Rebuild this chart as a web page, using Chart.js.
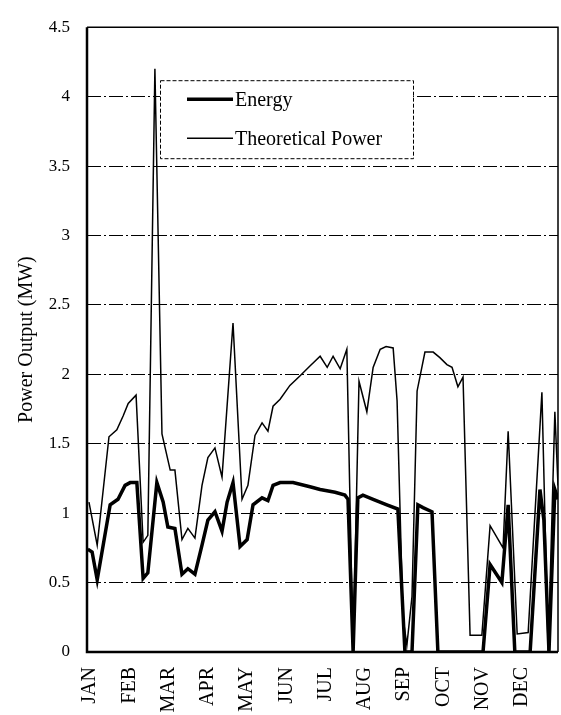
<!DOCTYPE html>
<html lang="en">
<head>
    <meta charset="UTF-8" />
    <title>Power Output</title>
    <style>
        body {
            margin: 0;
            background: #fff;
        }
    </style>
    <script src="https://cdn.jsdelivr.net/npm/chart.js"></script>
</head>

<body>
    <canvas id="chart" width="561" height="715"></canvas>

    <script>
        const monthLabels = ["JAN", "FEB", "MAR", "APR", "MAY", "JUN", "JUL", "AUG", "SEP", "OCT", "NOV", "DEC"];
        const yTicks = [0, 0.5, 1, 1.5, 2, 2.5, 3, 3.5, 4, 4.5];

        // x = months since 1 Jan, y = MW
        const energyX = [0.02, 0.13, 0.26, 0.59, 0.79, 0.97, 1.10, 1.27, 1.43, 1.55, 1.78, 1.94, 2.06, 2.24, 2.42, 2.57,
            2.75, 2.93, 3.08, 3.26, 3.44, 3.57, 3.72, 3.90, 4.08, 4.23, 4.46, 4.61, 4.74, 4.92, 5.25, 5.68, 5.94, 6.32,
            6.57, 6.65, 6.78, 6.90, 7.03, 7.29, 7.64, 7.92, 8.10, 8.28, 8.43, 8.56, 8.79, 8.94, 10.09, 10.27, 10.57,
            10.73, 10.90, 11.29, 11.54, 11.64, 11.77, 11.92, 12.0];
        const energyY = [0.74, 0.72, 0.52, 1.06, 1.10, 1.20, 1.22, 1.22, 0.53, 0.57, 1.22, 1.08, 0.90, 0.89, 0.56, 0.60,
            0.56, 0.77, 0.95, 1.01, 0.87, 1.08, 1.22, 0.76, 0.81, 1.06, 1.11, 1.09, 1.20, 1.22, 1.22, 1.19, 1.17, 1.15,
            1.13, 1.10, 0.0, 1.11, 1.13, 1.10, 1.06, 1.03, 0.0, 0.0, 1.06, 1.04, 1.01, 0.0, 0.0, 0.63, 0.50,
            1.06, 0.0, 0.0, 1.17, 0.95, 0.0, 1.17, 1.10];

        const theoryX = [0.05, 0.26, 0.56, 0.76, 0.92, 1.05, 1.25, 1.43, 1.55, 1.73, 1.91, 2.12, 2.24, 2.42, 2.57, 2.75,
            2.93, 3.08, 3.26, 3.44, 3.72, 3.95, 4.10, 4.28, 4.46, 4.61, 4.74, 4.92, 5.17, 5.43, 5.68, 5.94, 6.12, 6.27,
            6.45, 6.62, 6.78, 6.93, 7.13, 7.29, 7.47, 7.62, 7.80, 7.90, 8.05, 8.15, 8.28, 8.41, 8.61, 8.82, 8.99, 9.17,
            9.30, 9.45, 9.58, 9.76, 10.06, 10.27, 10.60, 10.73, 10.96, 11.24, 11.59, 11.75, 11.92, 12.0];
        const theoryY = [1.08, 0.77, 1.55, 1.60, 1.70, 1.79, 1.85, 0.79, 0.84, 4.20, 1.57, 1.31, 1.31, 0.81, 0.89, 0.82,
            1.20, 1.40, 1.47, 1.26, 2.37, 1.10, 1.20, 1.56, 1.65, 1.59, 1.77, 1.82, 1.92, 1.99, 2.06, 2.13, 2.05, 2.13,
            2.04, 2.18, 0.0, 1.95, 1.73, 2.05, 2.18, 2.20, 2.19, 1.81, 0.25, 0.05, 0.40, 1.88, 2.16, 2.16, 2.12, 2.07,
            2.05, 1.91, 1.98, 0.12, 0.12, 0.91, 0.75, 1.59, 0.13, 0.14, 1.87, 0.0, 1.73, 1.20];

        const serif = "'Liberation Serif', 'Times New Roman', serif";
        Chart.defaults.font.family = serif;
        Chart.defaults.color = '#000';

        function toPoints(xs, ys) {
            return xs.map((x, i) => ({ x: x, y: ys[i] }));
        }

        // box round the plot area
        const framePlugin = {
            id: 'frame',
            afterDatasetsDraw(chart) {
                const { ctx, chartArea: a } = chart;
                ctx.save();
                ctx.strokeStyle = '#000';
                ctx.lineWidth = 1.5;
                ctx.beginPath();
                ctx.moveTo(a.left, a.top);
                ctx.lineTo(a.right, a.top);
                ctx.lineTo(a.right, a.bottom);
                ctx.stroke();
                ctx.lineWidth = 2.5;
                ctx.beginPath();
                ctx.moveTo(a.left, a.top);
                ctx.lineTo(a.left, a.bottom);
                ctx.lineTo(a.right, a.bottom);
                ctx.stroke();
                ctx.restore();
            }
        };

        // legend box drawn inside the plot, as in the figure
        const boxLegend = {
            id: 'boxLegend',
            afterDraw(chart) {
                const { ctx, chartArea: a } = chart;
                const left = a.left + 73, top = a.top + 53, w = 253, h = 78;
                ctx.save();
                ctx.fillStyle = '#fff';
                ctx.fillRect(left, top, w, h);
                ctx.strokeStyle = '#000';
                ctx.lineWidth = 1;
                ctx.setLineDash([4, 2]);
                ctx.strokeRect(left + 0.5, top + 0.5, w, h);
                ctx.setLineDash([]);
                ctx.font = '20px ' + serif;
                ctx.textBaseline = 'middle';
                ctx.fillStyle = '#000';
                chart.data.datasets.forEach((ds, i) => {
                    const y = top + 19 + i * 39;
                    ctx.lineWidth = ds.borderWidth;
                    ctx.strokeStyle = ds.borderColor;
                    ctx.beginPath();
                    ctx.moveTo(left + 27, y);
                    ctx.lineTo(left + 73, y);
                    ctx.stroke();
                    ctx.fillText(ds.label, left + 75, y + 2);
                });
                ctx.restore();
            }
        };

        new Chart(document.getElementById('chart'), {
            type: 'line',
            data: {
                datasets: [{
                    label: 'Energy',
                    data: toPoints(energyX, energyY),
                    borderColor: '#000',
                    borderWidth: 3.5,
                    pointRadius: 0,
                    tension: 0
                }, {
                    label: 'Theoretical Power',
                    data: toPoints(theoryX, theoryY),
                    borderColor: '#000',
                    borderWidth: 1.5,
                    pointRadius: 0,
                    tension: 0
                }]
            },
            options: {
                responsive: false,
                animation: false,
                layout: { padding: { top: 17, right: 3, left: 0, bottom: 0 } },
                plugins: {
                    legend: { display: false },
                    tooltip: { enabled: false }
                },
                scales: {
                    x: {
                        type: 'linear',
                        min: 0,
                        max: 12,
                        afterBuildTicks: axis => {
                            axis.ticks = monthLabels.map((m, i) => ({ value: i }));
                        },
                        afterFit: scale => { scale.height = 63; },
                        grid: { display: false, drawTicks: false },
                        border: { display: false },
                        ticks: {
                            autoSkip: false,
                            minRotation: 90,
                            maxRotation: 90,
                            padding: 15,
                            labelOffset: 3,
                            font: { size: 20 },
                            callback: v => monthLabels[v]
                        }
                    },
                    y: {
                        min: 0,
                        max: 4.5,
                        afterBuildTicks: axis => {
                            axis.ticks = yTicks.map(v => ({ value: v }));
                        },
                        afterFit: scale => { scale.width = 87; },
                        grid: {
                            drawTicks: false,
                            color: ctx => (ctx.tick.value === 0 || ctx.tick.value === 4.5) ? 'rgba(0,0,0,0)' : '#000',
                            lineWidth: 1
                        },
                        border: { display: false, dash: [14, 3, 2, 3] },
                        ticks: {
                            padding: 17,
                            font: { size: 17 },
                            callback: v => String(v)
                        },
                        title: {
                            display: true,
                            text: 'Power Output (MW)',
                            font: { size: 20 },
                            padding: { top: 15, bottom: 0 }
                        }
                    }
                }
            },
            plugins: [framePlugin, boxLegend]
        });
    </script>
</body>
</html>
